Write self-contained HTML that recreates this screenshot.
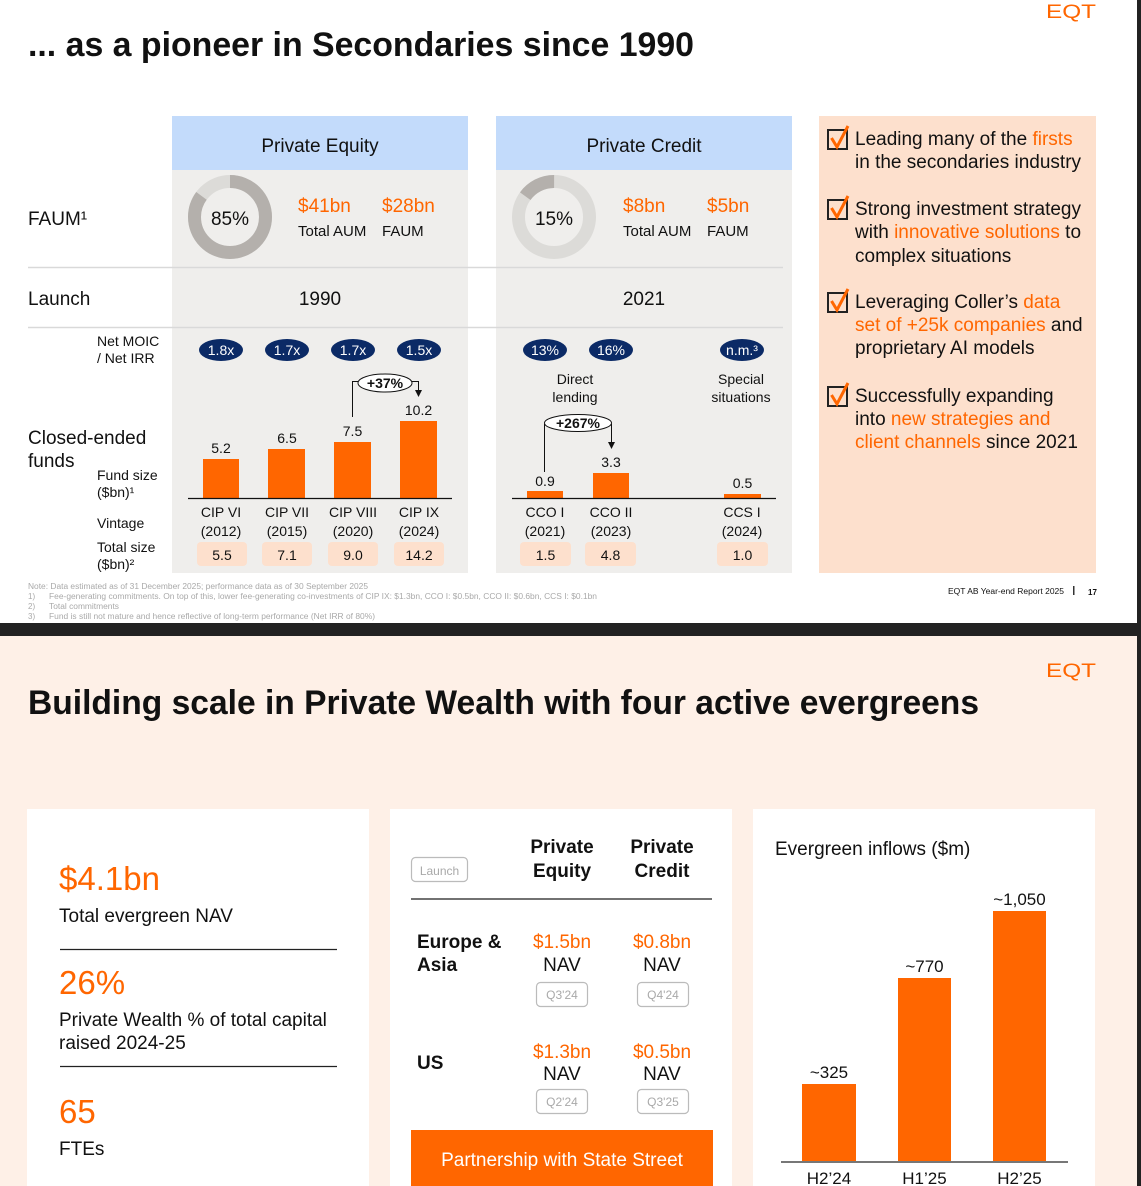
<!DOCTYPE html>
<html><head><meta charset="utf-8"><style>
html,body{margin:0;padding:0;background:#fff;width:1141px;height:1186px;overflow:hidden;}
svg{display:block;}
text{font-family:"Liberation Sans",Arial,sans-serif;fill:#111;}
.o{fill:#ff6600;}
.w{fill:#fff;}
.g{fill:#a9a9a9;}
.b{font-weight:bold;}
</style></head><body>
<svg width="1141" height="1186" viewBox="0 0 1141 1186" xmlns="http://www.w3.org/2000/svg">
<!-- backgrounds -->
<rect width="1141" height="1186" fill="#fff"/>
<rect x="0" y="636" width="1141" height="550" fill="#fef0e7"/>
<rect x="0" y="623" width="1141" height="13" fill="#222"/>
<rect x="1137" y="0" width="4" height="1186" fill="#222"/>

<!-- ===== TOP SLIDE ===== -->
<text x="1046" y="18" font-size="19" class="o" textLength="50" lengthAdjust="spacingAndGlyphs">EQT</text>
<text x="28" y="56" font-size="34" class="b" textLength="666" lengthAdjust="spacingAndGlyphs">... as a pioneer in Secondaries since 1990</text>

<!-- panels -->
<rect x="172" y="116" width="296" height="54" fill="#c3dbfb"/>
<rect x="172" y="170" width="296" height="403" fill="#efeeec"/>
<rect x="496" y="116" width="296" height="54" fill="#c3dbfb"/>
<rect x="496" y="170" width="296" height="403" fill="#efeeec"/>
<rect x="819" y="116" width="277" height="457" fill="#fde0cd"/>

<text x="320" y="152" font-size="19" text-anchor="middle">Private Equity</text>
<text x="644" y="152" font-size="19" text-anchor="middle">Private Credit</text>

<!-- divider lines -->
<line x1="28" y1="267.5" x2="783" y2="267.5" stroke="#d9d9d9" stroke-width="1.5"/>
<line x1="28" y1="327.5" x2="783" y2="327.5" stroke="#d9d9d9" stroke-width="1.5"/>

<!-- FAUM row -->
<text x="28" y="225" font-size="19">FAUM¹</text>
<circle cx="230" cy="217" r="35.5" fill="none" stroke="#dcdbd8" stroke-width="13"/>
<circle cx="230" cy="217" r="35.5" fill="none" stroke="#b4b0ac" stroke-width="13" stroke-dasharray="189.6 223.1" transform="rotate(-90 230 217)"/>
<text x="230" y="225" font-size="19" text-anchor="middle">85%</text>
<text x="298" y="212" font-size="19" class="o">$41bn</text>
<text x="382" y="212" font-size="19" class="o">$28bn</text>
<text x="298" y="236" font-size="15">Total AUM</text>
<text x="382" y="236" font-size="15">FAUM</text>

<circle cx="554" cy="217" r="35.5" fill="none" stroke="#dcdbd8" stroke-width="13"/>
<circle cx="554" cy="217" r="35.5" fill="none" stroke="#b4b0ac" stroke-width="13" stroke-dasharray="33.5 223.1" transform="rotate(-144 554 217)"/>
<text x="554" y="225" font-size="19" text-anchor="middle">15%</text>
<text x="623" y="212" font-size="19" class="o">$8bn</text>
<text x="707" y="212" font-size="19" class="o">$5bn</text>
<text x="623" y="236" font-size="15">Total AUM</text>
<text x="707" y="236" font-size="15">FAUM</text>

<!-- Launch row -->
<text x="28" y="305" font-size="19">Launch</text>
<text x="320" y="305" font-size="19" text-anchor="middle">1990</text>
<text x="644" y="305" font-size="19" text-anchor="middle">2021</text>

<!-- Left labels -->
<text x="97" y="346" font-size="14">Net MOIC</text>
<text x="97" y="363" font-size="14">/ Net IRR</text>
<text x="28" y="444" font-size="19">Closed-ended</text>
<text x="28" y="467" font-size="19">funds</text>
<text x="97" y="480" font-size="14">Fund size</text>
<text x="97" y="497" font-size="14">($bn)¹</text>
<text x="97" y="528" font-size="14">Vintage</text>
<text x="97" y="552" font-size="14">Total size</text>
<text x="97" y="569" font-size="14">($bn)²</text>

<!-- pills -->
<g fill="#0b2a66">
<ellipse cx="221" cy="350" rx="22" ry="11"/>
<ellipse cx="287" cy="350" rx="22" ry="11"/>
<ellipse cx="353" cy="350" rx="22" ry="11"/>
<ellipse cx="419" cy="350" rx="22" ry="11"/>
<ellipse cx="545" cy="350" rx="22" ry="11"/>
<ellipse cx="611" cy="350" rx="22" ry="11"/>
<ellipse cx="742" cy="350" rx="22" ry="11"/>
</g>
<text x="221" y="355" font-size="14" class="w" text-anchor="middle">1.8x</text>
<text x="287" y="355" font-size="14" class="w" text-anchor="middle">1.7x</text>
<text x="353" y="355" font-size="14" class="w" text-anchor="middle">1.7x</text>
<text x="419" y="355" font-size="14" class="w" text-anchor="middle">1.5x</text>
<text x="545" y="355" font-size="14" class="w" text-anchor="middle">13%</text>
<text x="611" y="355" font-size="14" class="w" text-anchor="middle">16%</text>
<text x="742" y="355" font-size="14" class="w" text-anchor="middle">n.m.³</text>

<!-- PE bars -->
<g fill="#ff6600">
<rect x="203" y="459" width="36" height="39"/>
<rect x="268" y="449" width="37" height="49"/>
<rect x="334" y="442" width="37" height="56"/>
<rect x="400" y="421" width="37" height="77"/>
</g>
<line x1="188" y1="498.5" x2="452" y2="498.5" stroke="#111" stroke-width="1.2"/>
<text x="221" y="453" font-size="14" text-anchor="middle">5.2</text>
<text x="287" y="443" font-size="14" text-anchor="middle">6.5</text>
<text x="352.5" y="436" font-size="14" text-anchor="middle">7.5</text>
<text x="418.5" y="415" font-size="14" text-anchor="middle">10.2</text>

<!-- +37% annotation -->
<path d="M352.5,417 V381.5 H360" fill="none" stroke="#111" stroke-width="1"/>
<path d="M410,381.5 H418.5 V391" fill="none" stroke="#111" stroke-width="1"/>
<polygon points="415,390 422,390 418.5,397" fill="#111"/>
<ellipse cx="385" cy="383" rx="27" ry="9" fill="#fff" stroke="#111" stroke-width="1"/>
<text x="385" y="388" font-size="14" class="b" text-anchor="middle">+37%</text>

<!-- PE x labels -->
<g font-size="14" text-anchor="middle">
<text x="221" y="517">CIP VI</text><text x="221" y="536">(2012)</text>
<text x="287" y="517">CIP VII</text><text x="287" y="536">(2015)</text>
<text x="353" y="517">CIP VIII</text><text x="353" y="536">(2020)</text>
<text x="419" y="517">CIP IX</text><text x="419" y="536">(2024)</text>
</g>
<g fill="#fde0cd">
<rect x="197" y="542" width="50" height="24" rx="4"/>
<rect x="262" y="542" width="50" height="24" rx="4"/>
<rect x="328" y="542" width="50" height="24" rx="4"/>
<rect x="394" y="542" width="50" height="24" rx="4"/>
<rect x="520" y="542" width="51" height="24" rx="4"/>
<rect x="585" y="542" width="51" height="24" rx="4"/>
<rect x="717" y="542" width="51" height="24" rx="4"/>
</g>
<g font-size="14" text-anchor="middle">
<text x="222" y="560">5.5</text>
<text x="287" y="560">7.1</text>
<text x="353" y="560">9.0</text>
<text x="419" y="560">14.2</text>
<text x="545.5" y="560">1.5</text>
<text x="610.5" y="560">4.8</text>
<text x="742.5" y="560">1.0</text>
</g>

<!-- PC -->
<g font-size="14" text-anchor="middle">
<text x="575" y="384">Direct</text><text x="575" y="402">lending</text>
<text x="741" y="384">Special</text><text x="741" y="402">situations</text>
</g>
<g fill="#ff6600">
<rect x="527" y="491" width="36" height="7"/>
<rect x="593" y="473" width="36" height="25"/>
<rect x="724" y="494" width="37" height="4"/>
</g>
<line x1="512" y1="498.5" x2="776" y2="498.5" stroke="#111" stroke-width="1.2"/>
<text x="545" y="486" font-size="14" text-anchor="middle">0.9</text>
<text x="611" y="467" font-size="14" text-anchor="middle">3.3</text>
<text x="742.5" y="488" font-size="14" text-anchor="middle">0.5</text>

<!-- +267% annotation -->
<path d="M544.5,472 V424" fill="none" stroke="#111" stroke-width="1"/>
<path d="M611.5,424 V443" fill="none" stroke="#111" stroke-width="1"/>
<polygon points="608,442 615,442 611.5,449" fill="#111"/>
<ellipse cx="578" cy="423" rx="33.5" ry="8.5" fill="#fff" stroke="#111" stroke-width="1"/>
<text x="578" y="428" font-size="14" class="b" text-anchor="middle">+267%</text>

<g font-size="14" text-anchor="middle">
<text x="545" y="517">CCO I</text><text x="545" y="536">(2021)</text>
<text x="611" y="517">CCO II</text><text x="611" y="536">(2023)</text>
<text x="742" y="517">CCS I</text><text x="742" y="536">(2024)</text>
</g>

<!-- Right orange panel checklist -->
<g>
<rect x="828" y="130" width="19" height="19" fill="none" stroke="#222" stroke-width="2"/>
<path d="M831.5,138 L837,147 L848,126" fill="none" stroke="#ff6600" stroke-width="3"/>
<rect x="828" y="200" width="19" height="19" fill="none" stroke="#222" stroke-width="2"/>
<path d="M831.5,208 L837,217 L848,196" fill="none" stroke="#ff6600" stroke-width="3"/>
<rect x="828" y="293" width="19" height="19" fill="none" stroke="#222" stroke-width="2"/>
<path d="M831.5,301 L837,310 L848,289" fill="none" stroke="#ff6600" stroke-width="3"/>
<rect x="828" y="387" width="19" height="19" fill="none" stroke="#222" stroke-width="2"/>
<path d="M831.5,395 L837,404 L848,383" fill="none" stroke="#ff6600" stroke-width="3"/>
</g>
<g font-size="19">
<text x="855" y="145">Leading many of the <tspan class="o">firsts</tspan></text>
<text x="855" y="168">in the secondaries industry</text>
<text x="855" y="215">Strong investment strategy</text>
<text x="855" y="238">with <tspan class="o">innovative solutions</tspan> to</text>
<text x="855" y="262">complex situations</text>
<text x="855" y="308">Leveraging Coller’s <tspan class="o">data</tspan></text>
<text x="855" y="331"><tspan class="o">set of +25k companies</tspan> and</text>
<text x="855" y="354">proprietary AI models</text>
<text x="855" y="402">Successfully expanding</text>
<text x="855" y="425">into <tspan class="o">new strategies and</tspan></text>
<text x="855" y="448"><tspan class="o">client channels</tspan> since 2021</text>
</g>

<!-- footnotes -->
<g font-size="8">
<text x="28" y="589" class="g" textLength="340" lengthAdjust="spacingAndGlyphs">Note: Data estimated as of 31 December 2025; performance data as of 30 September 2025</text>
<text x="28" y="599" class="g">1)</text>
<text x="49" y="599" class="g" textLength="548" lengthAdjust="spacingAndGlyphs">Fee-generating commitments. On top of this, lower fee-generating co-investments of CIP IX: $1.3bn, CCO I: $0.5bn, CCO II: $0.6bn, CCS I: $0.1bn</text>
<text x="28" y="609" class="g">2)</text>
<text x="49" y="609" class="g" textLength="70" lengthAdjust="spacingAndGlyphs">Total commitments</text>
<text x="28" y="619" class="g">3)</text>
<text x="49" y="619" class="g" textLength="326" lengthAdjust="spacingAndGlyphs">Fund is still not mature and hence reflective of long-term performance (Net IRR of 80%)</text>
</g>
<text x="948" y="594" font-size="8" fill="#333" textLength="116" lengthAdjust="spacingAndGlyphs">EQT AB Year-end Report 2025</text>
<rect x="1073" y="586" width="1.5" height="9" fill="#333"/>
<text x="1088" y="595" font-size="8" class="b">17</text>

<!-- ===== BOTTOM SLIDE ===== -->
<text x="1046" y="677" font-size="19" class="o" textLength="50" lengthAdjust="spacingAndGlyphs">EQT</text>
<text x="28" y="714" font-size="34" class="b" textLength="951" lengthAdjust="spacingAndGlyphs">Building scale in Private Wealth with four active evergreens</text>

<rect x="27" y="809" width="342" height="377" fill="#fff"/>
<rect x="390" y="809" width="342" height="377" fill="#fff"/>
<rect x="753" y="809" width="342" height="377" fill="#fff"/>

<!-- card 1 -->
<text x="59" y="890" font-size="33" class="o">$4.1bn</text>
<text x="59" y="922" font-size="19">Total evergreen NAV</text>
<line x1="60" y1="949.5" x2="337" y2="949.5" stroke="#222" stroke-width="1.2"/>
<text x="59" y="994" font-size="33" class="o">26%</text>
<text x="59" y="1026" font-size="19">Private Wealth % of total capital</text>
<text x="59" y="1049" font-size="19">raised 2024-25</text>
<line x1="60" y1="1066.5" x2="337" y2="1066.5" stroke="#222" stroke-width="1.2"/>
<text x="59" y="1123" font-size="33" class="o">65</text>
<text x="59" y="1155" font-size="19">FTEs</text>

<!-- card 2 -->
<rect x="411.5" y="857.5" width="56" height="24" rx="4" fill="#fff" stroke="#bbb" stroke-width="1.2"/>
<text x="439.5" y="875" font-size="12" class="g" text-anchor="middle">Launch</text>
<g font-size="19" class="b" text-anchor="middle">
<text x="562" y="853">Private</text><text x="562" y="877">Equity</text>
<text x="662" y="853">Private</text><text x="662" y="877">Credit</text>
</g>
<line x1="411" y1="899" x2="712" y2="899" stroke="#444" stroke-width="1.5"/>
<text x="417" y="948" font-size="19" class="b">Europe &amp;</text>
<text x="417" y="971" font-size="19" class="b">Asia</text>
<text x="417" y="1069" font-size="19" class="b">US</text>
<g font-size="19" text-anchor="middle">
<text x="562" y="948" class="o">$1.5bn</text><text x="562" y="971">NAV</text>
<text x="662" y="948" class="o">$0.8bn</text><text x="662" y="971">NAV</text>
<text x="562" y="1058" class="o">$1.3bn</text><text x="562" y="1080">NAV</text>
<text x="662" y="1058" class="o">$0.5bn</text><text x="662" y="1080">NAV</text>
</g>
<g fill="#fff" stroke="#bbb" stroke-width="1.2">
<rect x="536.5" y="982.5" width="51" height="24" rx="4"/>
<rect x="637.5" y="982.5" width="51" height="24" rx="4"/>
<rect x="536.5" y="1089.5" width="51" height="24" rx="4"/>
<rect x="637.5" y="1089.5" width="51" height="24" rx="4"/>
</g>
<g font-size="12" text-anchor="middle">
<text x="562" y="999" class="g">Q3'24</text>
<text x="663" y="999" class="g">Q4'24</text>
<text x="562" y="1106" class="g">Q2'24</text>
<text x="663" y="1106" class="g">Q3'25</text>
</g>
<rect x="411" y="1130" width="302" height="56" fill="#ff6600"/>
<text x="562" y="1166" font-size="19" class="w" text-anchor="middle">Partnership with State Street</text>

<!-- card 3 -->
<text x="775" y="855" font-size="19">Evergreen inflows ($m)</text>
<g fill="#ff6600">
<rect x="802" y="1084" width="54" height="78"/>
<rect x="898" y="978" width="53" height="184"/>
<rect x="993" y="911" width="53" height="251"/>
</g>
<line x1="781" y1="1162" x2="1068" y2="1162" stroke="#777" stroke-width="2"/>
<g font-size="17" text-anchor="middle">
<text x="829" y="1078">~325</text>
<text x="924.5" y="972">~770</text>
<text x="1019.5" y="905">~1,050</text>
<text x="829" y="1184">H2’24</text>
<text x="924.5" y="1184">H1’25</text>
<text x="1019.5" y="1184">H2’25</text>
</g>
</svg>
</body></html>
